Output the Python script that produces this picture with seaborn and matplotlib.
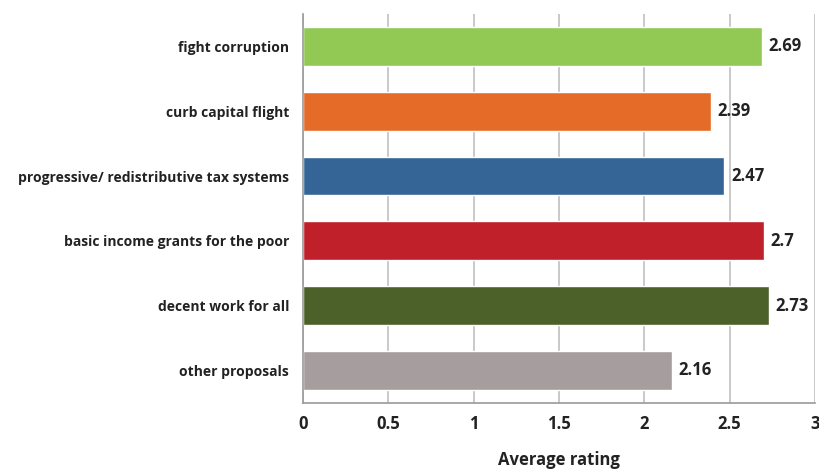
import matplotlib
matplotlib.use("Agg")
import matplotlib.pyplot as plt
import seaborn as sns
import pandas as pd
import numpy as np

categories = ["fight corruption", "curb capital flight", "progressive/ redistributive tax systems",
              "basic income grants for the poor", "decent work for all", "other proposals"]
values = [2.69, 2.39, 2.47, 2.7, 2.73, 2.16]
labels = ["2.69", "2.39", "2.47", "2.7", "2.73", "2.16"]
colors = ["#92C955", "#E46C28", "#356496", "#C0202A", "#4C6129", "#A59D9E"]
xticks = [0, 0.5, 1, 1.5, 2, 2.5, 3]
xticklabels = ["0", "0.5", "1", "1.5", "2", "2.5", "3"]

sns.set_style("white")
plt.rcParams['font.family'] = ['Open Sans', 'DejaVu Sans']

df = pd.DataFrame({"cat": categories, "val": values})
fig = plt.figure(figsize=(8.19, 4.70), dpi=100)
ax = fig.add_axes([0.370, 0.143, 0.625, 0.827])
sns.barplot(data=df, y="cat", x="val", hue="cat", palette=colors, legend=False,
            width=0.6, ax=ax, saturation=1)
ax.set_xlim(0, 3)
ax.set_ylim(5.5, -0.5)
ax.set_xticks(xticks)
ax.set_xticklabels(xticklabels, fontsize=12, fontweight="bold", color="#222222")
ax.set_yticks(range(len(categories)))
ax.set_yticklabels(categories, fontsize=10, fontweight="bold", color="#222222")
ax.tick_params(axis="y", length=0, pad=10)
ax.set_yticks(np.arange(-0.5, 6, 1), minor=True)
ax.tick_params(axis="y", which="minor", length=5, color="#999999", width=1)
ax.tick_params(axis="x", length=5, color="#999999", width=1, pad=4)
ax.grid(axis="x", color="#c0c0c0", linewidth=1.2)
ax.set_axisbelow(True)
for s in ["top", "right"]:
    ax.spines[s].set_visible(False)
for s in ["left", "bottom"]:
    ax.spines[s].set_color("#999999")
    ax.spines[s].set_linewidth(1.2)
ax.set_ylabel("")
ax.set_xlabel("Average rating", fontsize=12, fontweight="bold", labelpad=13, color="#222222")
for i, (v, l) in enumerate(zip(values, labels)):
    ax.text(v + 0.04, i, l, va="center", ha="left", fontsize=12, fontweight="bold", color="#222222")
fig.savefig("out.png", dpi=100)
